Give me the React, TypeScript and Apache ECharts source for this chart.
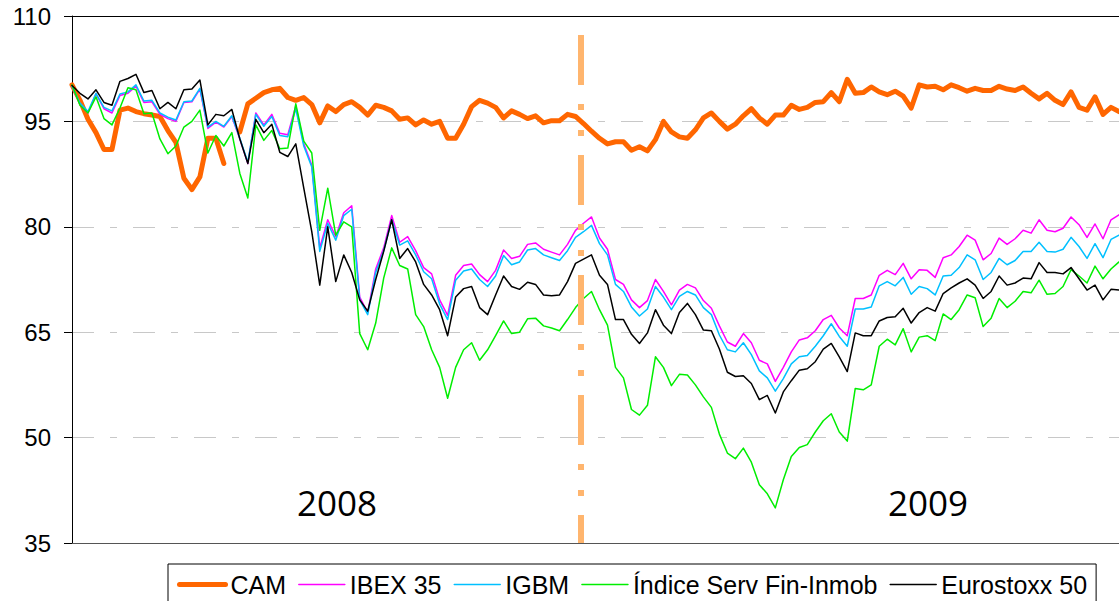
import React, { useEffect, useRef } from "react";
import * as echarts from "echarts";

// ---- data ----
const yTicks = [35, 50, 65, 80, 95, 110];
const yearLabels = ["2008", "2009"];
const yearBoundary = 63.65; // period index where 2008 ends
const seriesNames = ["CAM", "IBEX 35", "IGBM", "Índice Serv Fin-Inmob", "Eurostoxx 50"];

const cam = [
  100.2, 98, 95.3, 93.4, 91, 91, 96.6, 96.9, 96.4, 96.1,
  95.9, 95.7, 93.7, 92, 86.9, 85.3, 87.1, 92.6, 92.6, 89,
  null, 93.5, 97.5, 98.3, 99.1, 99.5, 99.7, 98.4, 98, 98.4,
  97.4, 94.8, 97.2, 96.4, 97.4, 97.8, 97, 95.9, 97.3, 97,
  96.5, 95.3, 95.5, 94.5, 95.2, 94.6, 95, 92.6, 92.6, 94.6,
  97.1, 98, 97.6, 97, 95.5, 96.5, 96, 95.4, 95.8, 94.8,
  95.1, 95.1, 96, 95.7, 94.7, 93.6, 92.6, 91.8, 92.1, 92.1,
  90.9, 91.4, 90.8, 92.4, 95, 93.5, 92.8, 92.6, 93.8, 95.5,
  96.2, 95, 93.9, 94.6, 95.8, 96.8, 95.5, 94.6, 95.9, 95.9,
  97.3, 96.7, 97, 97.7, 97.8, 99.1, 97.8, 101, 99, 99.1,
  99.9, 99.2, 98.8, 99.3, 98.6, 96.9, 100.2, 99.9, 100, 99.5,
  100.2, 99.8, 99.3, 99.7, 99.4, 99.4, 100, 99.6, 99.4, 99.9,
  99, 98.2, 99, 98, 97.4, 99.2, 97, 96.6, 98.5, 96,
  97, 96.4,
];

const ibex35 = [
  100, 97.4, 96.2, 98.9, 96.8, 96.2, 98.7, 99, 100, 97.7,
  97.8, 96, 95.4, 95, 97.7, 97.8, 99.6, 94, 94.9, 94.2,
  95.7, 92.5, 89, 96.2, 94.5, 96, 93.3, 93.1, 97.2, 91.8,
  88.8, 77, 81, 78.6, 82, 83, 70, 67.8, 74, 77,
  81.6, 77.8, 78.6, 76.6, 74.2, 73.3, 69.6, 67.4, 73.1, 74.5,
  74.7, 73.2, 72.2, 73.8, 76.7, 75.5, 75.8, 77.5, 77.7, 76.8,
  76.4, 76, 77.5, 79.5, 80.5, 81.4, 78.4, 76.8, 72.5, 71.8,
  69.6, 68.5, 69.5, 72.5, 70.8, 68.9, 71, 71.8, 71.3, 69.5,
  68.4, 65.9, 63.6, 63, 64.8, 63.5, 61, 60.5, 58, 60,
  62.2, 63.9, 64.2, 65.2, 66.8, 67.4, 65.6, 64.5, 69.8, 69.8,
  70.3, 73.1, 73.8, 73.2, 74.8, 72.6, 73.9, 73.8, 72.8, 75.6,
  76, 77.2, 78.8, 78.1, 75.3, 76.2, 78.4, 77.5, 78.3, 79.5,
  79.1, 81, 79.5, 79.3, 79.8, 81.4, 80.3, 78.5, 80.4, 78.3,
  81, 81.7,
];

const igbm = [
  100, 97.6, 96.4, 99, 97, 96.5, 98.9, 99.2, 100.2, 97.9,
  98, 96.2, 95.6, 95.2, 97.8, 97.9, 99.7, 94.2, 95, 94.3,
  95.8, 92.6, 89.2, 96, 94.3, 95.7, 93, 92.8, 96.8, 91.5,
  88.5, 76.5, 80.5, 78.1, 81.6, 82.5, 69.6, 67.5, 73.5, 76.6,
  81, 77.4, 78, 76, 73.6, 72.6, 69, 66.8, 72.4, 73.7,
  74, 72.5, 71.5, 73, 75.9, 74.6, 75, 76.7, 76.9, 76,
  75.6, 75.2, 76.6, 78.5, 79.3, 80.2, 77.6, 76, 71.8, 70.8,
  68.6, 67.3, 68.3, 71.5, 70, 68.2, 70.1, 70.8, 70.3, 68.5,
  67.5, 64.6, 62.5, 62.2, 63.5, 61.8, 59.5, 58.5, 56.6, 58.4,
  60.5, 61.5, 61.7, 63, 64.5, 66.2, 64.4, 63, 68.3, 68.3,
  68.6, 71.6, 72.2, 71.6, 72.8, 70.4, 71.5, 71.2, 70.3, 73,
  73.1, 74.2, 76, 75.3, 72.5, 73.5, 75.5, 74.6, 75.2, 76.5,
  76.5, 77.8, 76.5, 76.4, 76.8, 78.5, 77.2, 75.5, 77.6, 75.6,
  78.2, 78.8,
];

const finInmob = [
  100.2, 97.3, 96.2, 98.5, 95.4, 94.5, 96.9, 99.8, 99.5, 96.1,
  96.2, 92.5, 90.4, 91.5, 94.2, 95, 96.6, 90.5, 93, 91.5,
  93.4, 87.6, 84.1, 94.5, 92.3, 93.7, 91.1, 91.2, 97.5, 92.2,
  90.5, 79.5, 85.5, 78.8, 80.7, 80, 64.8, 62.5, 66.3, 72.7,
  77, 74.5, 74, 67.5, 65.8, 62.5, 60, 55.6, 60, 62.5,
  63.5, 61, 62.5, 64.5, 66.6, 64.8, 65, 66.9, 67, 65.9,
  65.6, 65.2, 66.8, 68.5, 69.8, 70.8, 68.2, 66, 60, 58.5,
  54, 53.2, 54.6, 61.5, 60, 57.4, 59, 58.9, 57.5, 55.8,
  54.3, 50.5, 47.8, 47, 48.5, 46.5, 43.3, 42, 40, 44,
  47.3, 48.6, 49, 50.8, 52.4, 53.4, 50.8, 49.5, 57, 56.8,
  57.5, 63, 64, 63.2, 65.5, 62.2, 64.3, 64.5, 63.8, 67.6,
  66.8, 68.2, 70.3, 69.9, 65.8, 67, 69.8, 68.5, 69.4, 70.8,
  70.6, 72.4, 70.4, 70.5, 71.5, 73.9, 73, 72, 74.4, 72.6,
  74, 75,
];

const eurostoxx50 = [
  100.1, 99, 98.2, 99.5, 97.7, 97.3, 100.7, 101.1, 101.7, 99.1,
  99.4, 96.8, 97.7, 96.8, 99.5, 99.6, 100.9, 94.5, 96, 95.8,
  96.7, 92.5, 89, 95.3, 93.4, 94.6, 90.6, 90, 91.8, 85.5,
  79.3, 71.7, 80, 72.2, 76, 73.5, 69.6, 68, 72.5, 76.5,
  81, 75.5, 76.9, 75, 71.8, 70.3, 68.2, 64.5, 70, 71.2,
  71.5, 68.5, 67.5, 70.3, 73, 71.5, 71.1, 72.1, 71.8, 70.3,
  70.2, 70.3, 72.2, 74.8, 75.4, 76, 73.1, 71.8, 66.8, 66.8,
  64.7, 63.4, 64.9, 68.2, 66, 64.8, 67.8, 69.1, 67.5, 65.3,
  65.2, 62.6, 59.3, 58.7, 58.8, 57.7, 55.4, 56, 53.5, 56.5,
  58.1, 59.6, 59.8, 60.8, 62.6, 63.4, 61.5, 59.4, 64.9, 64.5,
  64.5, 66.6, 67.1, 67.2, 68.4, 66.3, 67.8, 68.5, 68, 70.5,
  71.3, 72, 72.6, 71.7, 69.8, 70.8, 73, 71.7, 72, 72.7,
  72.6, 74.9, 73.5, 73.5, 73.3, 74.2, 72.6, 71, 71.7, 69.6,
  71.1, 71,
];

const seriesValues = [cam, ibex35, igbm, finInmob, eurostoxx50];
const seriesColors = ["#FF6600", "#FF00FF", "#00C0FF", "#00EE00", "#000000"];
const seriesWidths = [5, 1.5, 1.5, 1.5, 1.5];

const periods = cam.map((_, i) => i);

function buildOption() {
  const series: any[] = seriesValues.map((vals, s) => ({
    name: seriesNames[s],
    type: "line",
    data: vals.map((v, i) => [periods[i], v]),
    symbol: "none",
    showSymbol: false,
    connectNulls: false,
    clip: true,
    silent: true,
    z: 2,
    lineStyle: {
      color: seriesColors[s],
      width: seriesWidths[s],
      join: "round",
      cap: "round",
    },
    itemStyle: { color: seriesColors[s] },
    emphasis: { disabled: true },
  }));

  series[series.length - 1].markLine = {
    silent: true,
    symbol: ["none", "none"],
    z: 10,
    label: { show: false },
    lineStyle: {
      color: "#FFB56E",
      width: 6,
      type: [50, 19, 6, 20, 6, 19],
      dashOffset: 22,
    },
    emphasis: { disabled: true },
    data: [{ xAxis: yearBoundary }],
  };

  return {
    animation: false,
    backgroundColor: "#ffffff",
    grid: { left: 72, right: 0, top: 16, bottom: 58, containLabel: false },
    xAxis: [
      {
        type: "value",
        min: 0,
        max: periods.length - 1,
        axisLine: { show: true, onZero: false, lineStyle: { color: "#555555", width: 1 } },
        axisTick: { show: false },
        axisLabel: { show: false },
        splitLine: { show: false },
      },
      {
        type: "value",
        position: "top",
        min: 0,
        max: periods.length - 1,
        axisLine: { show: true, onZero: false, lineStyle: { color: "#000000", width: 1 } },
        axisTick: { show: false },
        axisLabel: { show: false },
        splitLine: { show: false },
      },
    ],
    yAxis: {
      type: "value",
      min: yTicks[0],
      max: yTicks[yTicks.length - 1],
      interval: yTicks[1] - yTicks[0],
      axisLine: { show: true, lineStyle: { color: "#000000", width: 1 } },
      axisTick: { show: true, inside: false, length: 8, lineStyle: { color: "#000000", width: 1 } },
      axisLabel: {
        color: "#000000",
        fontSize: 24,
        fontFamily: "Liberation Sans, Arial, sans-serif",
        margin: 21,
      },
      splitLine: {
        show: true,
        lineStyle: { color: "#C8C8C8", width: 1, type: [22, 16, 7, 16] },
      },
    },
    legend: {
      show: true,
      left: 168,
      top: 564,
      orient: "horizontal",
      padding: [8, 9, 12, 9],
      borderColor: "#000000",
      borderWidth: 1,
      backgroundColor: "#ffffff",
      itemGap: 12,
      itemWidth: 46,
      itemHeight: 14,
      selectedMode: false,
      itemStyle: { opacity: 0 },
      textStyle: {
        fontSize: 25,
        color: "#000000",
        fontFamily: "Liberation Sans, Arial, sans-serif",
      },
      data: seriesNames.map((n, s) => ({
        name: n,
        lineStyle: { width: seriesWidths[s], color: seriesColors[s], cap: "round" },
      })),
    },
    graphic: [
      {
        type: "text",
        x: 297,
        y: 502,
        silent: true,
        style: {
          text: yearLabels[0],
          fontSize: 35,
          fontFamily: "Open Sans, Noto Sans, sans-serif",
          fill: "#000000",
          align: "left",
          verticalAlign: "middle",
        },
      },
      {
        type: "text",
        x: 888,
        y: 502,
        silent: true,
        style: {
          text: yearLabels[1],
          fontSize: 35,
          fontFamily: "Open Sans, Noto Sans, sans-serif",
          fill: "#000000",
          align: "left",
          verticalAlign: "middle",
        },
      },
    ],
    series,
  };
}

export default function App() {
  const ref = useRef<HTMLDivElement>(null);
  useEffect(() => {
    if (!ref.current) return;
    const chart = echarts.init(ref.current, undefined, { renderer: "svg" });
    chart.setOption(buildOption() as any);
    return () => {
      chart.dispose();
    };
  }, []);
  return (
    <div
      ref={ref}
      style={{ position: "fixed", left: 0, top: 0, width: 1119, height: 601, background: "#ffffff" }}
    />
  );
}
